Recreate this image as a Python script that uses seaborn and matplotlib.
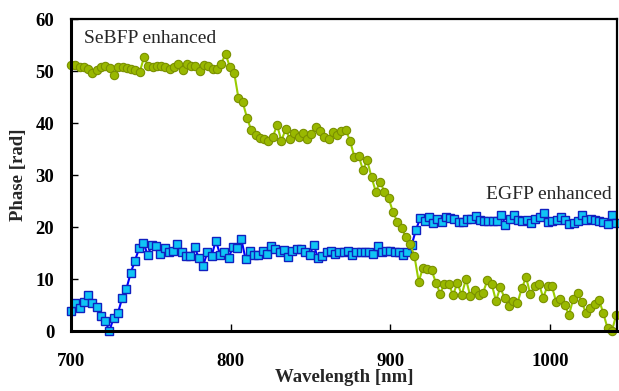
import numpy as np
import pandas as pd
import matplotlib
matplotlib.use("Agg")
import matplotlib.pyplot as plt
import seaborn as sns

# ---- data ----
sebfp_phase = [
    51.1, 51.1, 50.8, 50.8, 50.4, 49.6, 50.1, 50.8, 51.0, 50.6,
    49.3, 50.7, 50.7, 50.6, 50.3, 50.1, 49.8, 52.6, 51.0, 50.7,
    51.0, 51.0, 50.7, 50.3, 50.8, 51.3, 50.2, 51.4, 51.0, 50.9,
    50.0, 51.2, 51.0, 50.3, 50.4, 51.4, 53.3, 50.8, 49.7, 44.8,
    44.0, 41.0, 38.6, 37.7, 37.2, 36.9, 36.6, 37.3, 39.6, 36.6,
    38.8, 36.9, 38.1, 37.4, 38.1, 36.9, 37.9, 39.3, 38.5, 37.4,
    37.0, 38.3, 37.6, 38.5, 38.7, 36.6, 33.5, 33.7, 31.0, 32.8,
    29.6, 26.8, 28.7, 26.8, 25.5, 22.9, 21.0, 19.9, 18.0, 16.7,
    14.4, 9.5, 12.2, 11.9, 11.7, 9.3, 7.2, 9.1, 9.1, 6.9,
    9.3, 6.9, 10.0, 6.7, 7.9, 7.0, 7.4, 9.8, 9.0, 5.8,
    8.4, 6.3, 4.9, 5.7, 5.4, 8.2, 10.3, 7.1, 8.6, 9.1,
    6.4, 8.7, 8.7, 5.6, 6.1, 5.0, 3.1, 6.2, 7.4, 5.5,
    3.4, 4.4, 5.2, 6.0, 3.4, 0.5, 0.0, 3.1,
]
egfp_phase = [
    3.8, 5.4, 4.4, 5.6, 6.9, 5.3, 4.7, 2.8, 2.0, 0.0,
    2.5, 3.4, 6.3, 8.1, 11.1, 13.5, 15.9, 17.0, 14.6, 16.6,
    16.3, 14.9, 15.9, 15.1, 15.3, 16.8, 15.1, 14.4, 14.5, 16.1,
    14.1, 12.5, 15.1, 14.4, 17.4, 14.7, 15.1, 14.1, 16.1, 15.9,
    17.6, 13.8, 15.3, 14.7, 14.6, 15.3, 14.9, 16.3, 15.8, 15.1,
    15.6, 14.3, 15.3, 15.7, 15.8, 15.1, 14.6, 16.5, 14.0, 14.4,
    15.1, 15.4, 14.9, 15.1, 15.1, 15.3, 14.6, 15.2, 15.2, 15.2,
    15.1, 14.9, 16.3, 15.2, 15.3, 15.3, 15.1, 15.1, 14.6, 15.1,
    16.6, 19.5, 21.7, 21.2, 22.0, 20.8, 21.5, 21.0, 21.9, 21.7,
    21.5, 21.0, 21.0, 21.5, 21.5, 22.1, 21.3, 21.2, 21.2, 21.2,
    21.2, 22.4, 20.4, 21.5, 22.3, 21.3, 21.2, 21.3, 20.7, 21.5,
    21.9, 22.6, 21.0, 21.2, 21.3, 21.9, 21.3, 20.5, 20.7, 21.2,
    22.3, 21.3, 21.5, 21.3, 21.2, 20.9, 20.5, 22.3, 20.7,
]
wl_start, wl_end = 700.0, 1041.5
sebfp_wl = np.linspace(wl_start, wl_end, len(sebfp_phase))
egfp_wl = np.linspace(wl_start, wl_end, len(egfp_phase))

x_ticks = [700, 800, 900, 1000]
y_ticks = [0, 10, 20, 30, 40, 50, 60]
x_label = "Wavelength [nm]"
y_label = "Phase [rad]"
label_sebfp = "SeBFP enhanced"
label_egfp = "EGFP enhanced"

df_s = pd.DataFrame({"wl": sebfp_wl, "phase": sebfp_phase})
df_e = pd.DataFrame({"wl": egfp_wl, "phase": egfp_phase})

# ---- style ----
sns.set_style("ticks")
plt.rcParams["font.family"] = ["Liberation Serif", "DejaVu Serif"]

fig = plt.figure(figsize=(6.19, 3.91), dpi=100)
ax = fig.add_axes([71 / 619, 1 - 331 / 391, (617 - 71) / 619, (331 - 19) / 391])

sns.lineplot(data=df_e, x="wl", y="phase", ax=ax, color="#0000ff", lw=1.5,
             marker="s", markersize=5.8, markerfacecolor="#10c4f4",
             markeredgecolor="#1020c0", markeredgewidth=1.0, clip_on=False)
sns.lineplot(data=df_s, x="wl", y="phase", ax=ax, color="#99cc00", lw=1.5,
             marker="o", markersize=6.0, markerfacecolor="#99b800",
             markeredgecolor="#7a9000", markeredgewidth=0.8, clip_on=False)

ax.set_xlim(700, 1042)
ax.set_ylim(0, 60)
ax.set_xticks(x_ticks)
ax.set_yticks(y_ticks)
ax.set_xticklabels([str(v) for v in x_ticks], fontweight="bold", fontsize=13.5)
ax.set_yticklabels([str(v) for v in y_ticks], fontweight="bold", fontsize=13.5)
ax.tick_params(direction="in", length=5, width=1, colors="black")
ax.tick_params(axis="x", pad=16)
ax.tick_params(axis="y", pad=12)
ax.set_xlabel(x_label, fontweight="bold", fontsize=13.5, labelpad=-1)
ax.set_ylabel(y_label, fontweight="bold", fontsize=13.5, labelpad=6)

for side in ["left", "bottom"]:
    ax.spines[side].set_linewidth(2.2)
for side in ["top", "right"]:
    ax.spines[side].set_linewidth(1.6)
for s in ax.spines.values():
    s.set_color("black")

ax.text(708, 56.2, label_sebfp, fontsize=14, va="center", ha="left")
ax.text(1038.5, 26.2, label_egfp, fontsize=14, va="center", ha="right")

fig.savefig("out.png", dpi=100)
